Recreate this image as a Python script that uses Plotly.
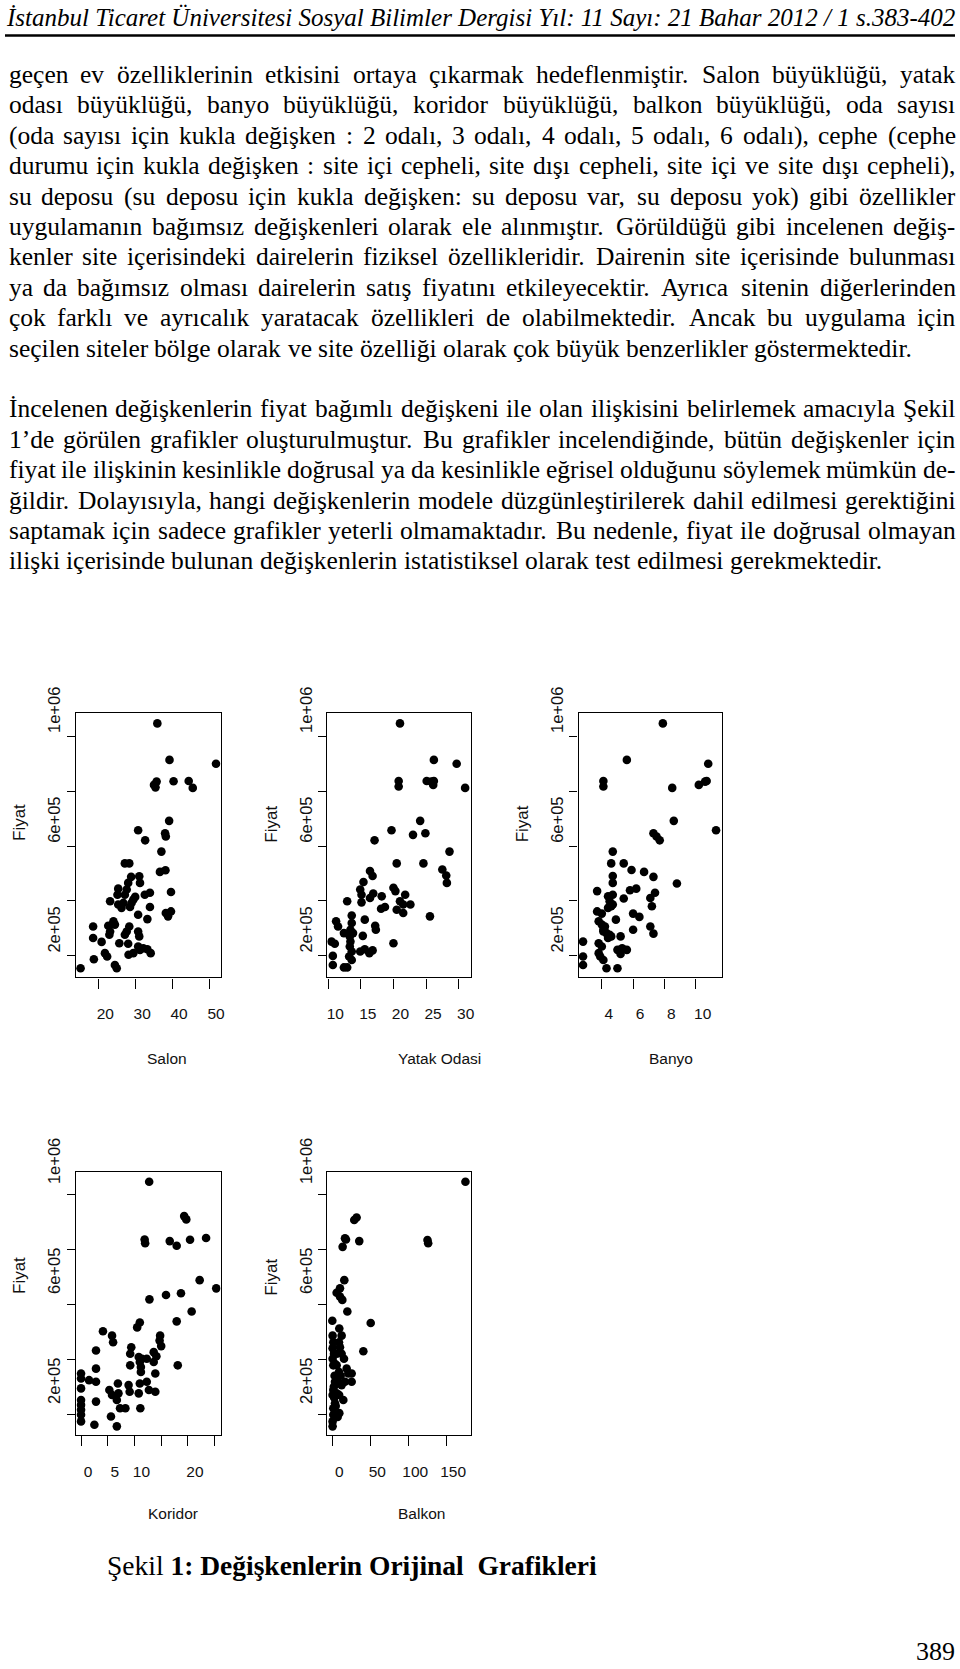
import plotly.graph_objects as go

W, H = 960, 1669

# ---------------- data (Fiyat in thousand TL) ----------------
salon_m2 = [36.0, 39.3, 51.9, 35.1, 35.8, 35.5, 40.4, 44.5, 45.6,
            39.2, 30.8, 32.7, 38.1, 38.3, 37.1, 27.2, 28.4, 36.7, 38.2, 28.9, 31.1, 31.3, 28.1,
            25.4, 25.2, 27.7, 27.2, 39.7, 32.6, 34.0, 23.2, 30.0, 29.5, 25.4, 26.3, 26.8, 28.6, 29.0,
            34.0, 30.8, 38.3, 38.9, 39.7, 33.3, 24.1, 24.5, 18.6, 22.7, 23.2, 23.0, 18.6, 28.4, 27.7,
            27.2, 30.8, 31.1, 20.9, 25.7, 28.1, 30.8, 31.3, 32.2, 33.3, 34.2, 28.2, 29.5, 21.8, 22.4,
            18.8, 24.5, 25.0, 15.2]
salon_fiyat_k = [1047, 914, 900, 823, 835, 814, 836, 837, 812,
                 692, 658, 621, 647, 635, 580, 537, 537, 506, 512, 488, 490, 466, 466,
                 445, 423, 442, 423, 433, 423, 430, 399, 415, 405, 387, 375, 393, 378, 393,
                 378, 350, 356, 344, 362, 334, 326, 314, 307, 310, 289, 277, 265, 307, 289,
                 277, 289, 271, 251, 246, 244, 234, 222, 228, 224, 210, 204, 210, 210, 198,
                 188, 167, 155, 155]

yatak_m2 = [21.0, 26.2, 29.7, 20.8, 20.8, 25.1, 25.8, 26.2, 26.1, 31.0,
            24.1, 19.7, 23.0, 24.9, 17.1, 28.6, 20.5, 24.6, 16.4, 16.8,
            27.5, 28.1, 28.2, 15.4, 14.9, 15.1, 20.0, 20.3, 16.9, 16.4,
            18.2, 21.8, 21.0, 22.6, 21.5, 20.5, 21.5, 12.9, 15.1, 18.7,
            18.1, 25.6, 13.6, 15.6, 11.2, 11.5, 17.2, 17.3, 13.6, 13.4,
            13.8, 13.3, 13.4, 13.3, 13.6, 13.2, 12.4, 15.3, 10.5, 11.0,
            20.0, 14.9, 15.6, 16.3, 16.8, 10.7, 10.7, 12.4, 12.9, 13.6]
yatak_fiyat_k = [1047, 914, 900, 837, 817, 837, 835, 837, 823, 812,
                 692, 658, 641, 647, 621, 580, 537, 537, 509, 491,
                 515, 493, 466, 469, 442, 423, 448, 436, 427, 411,
                 417, 423, 399, 387, 387, 368, 356, 399, 395, 378,
                 372, 344, 347, 332, 326, 307, 310, 295, 320, 295,
                 283, 271, 252, 234, 216, 198, 283, 273, 252, 244,
                 246, 216, 224, 210, 220, 200, 167, 158, 158, 185]

banyo_m2 = [7.9, 5.6, 10.8, 4.1, 4.1, 8.5, 10.2, 10.6, 10.7,
            8.6, 11.3, 7.3, 7.5, 7.7, 4.7, 4.6, 5.4, 5.9, 6.7,
            4.7, 4.7, 7.3, 8.8, 3.7, 5.8, 6.2, 4.7, 4.4, 4.5,
            4.6, 4.4, 4.7, 5.4, 7.4, 7.1, 7.2, 3.7, 4.0, 6.0,
            6.4, 4.9, 3.8, 4.0, 4.2, 4.1, 4.3, 4.5, 4.6, 4.4,
            4.1, 6.0, 7.1, 7.3, 5.2, 2.8, 3.8, 4.0, 5.0, 5.3,
            5.6, 5.2, 3.8, 3.9, 2.8, 2.8, 4.1, 4.3, 5.0]
banyo_fiyat_k = [1047, 914, 900, 837, 817, 812, 823, 835, 837,
                 692, 658, 647, 635, 621, 580, 537, 537, 513, 506,
                 491, 466, 488, 464, 436, 439, 445, 423, 417, 399,
                 381, 375, 387, 409, 430, 411, 381, 362, 354, 354,
                 342, 332, 326, 314, 307, 289, 283, 277, 271, 265,
                 295, 295, 307, 281, 271, 252, 246, 234, 222, 228,
                 222, 207, 210, 198, 198, 167, 185, 155, 155]

koridor_m2 = [12.75, 19.3, 19.7, 23.4, 20.4, 16.6, 17.9, 11.9, 12.0,
              22.2, 25.3, 12.8, 15.9, 18.7, 20.7, 17.9, 4.1, 10.5, 11.0,
              5.8, 6.0, 2.8, 14.8, 14.7, 15.0, 9.4, 9.2, 13.6, 14.1,
              10.8, 11.4, 12.3, 13.6, 11.0, 11.2, 11.2, 9.2, 2.8, 18.1,
              13.9, 0, 0, 1.5, 2.8, 0, 6.9, 8.9, 9.1, 5.3,
              5.8, 7.0, 11.0, 10.8, 12.3, 12.7, 13.9, 6.7, 2.8, 7.3,
              8.3, 0, 0, 0, 0, 0, 11.1, 5.6, 2.5, 6.7]
koridor_fiyat_k = [1046, 921, 909, 841, 835, 830, 813, 836, 822,
                   688, 658, 618, 634, 640, 574, 538, 502, 516, 534,
                   486, 462, 432, 486, 468, 448, 444, 420, 426, 411,
                   408, 402, 402, 390, 390, 372, 354, 378, 366, 378,
                   348, 348, 330, 324, 318, 294, 312, 306, 282, 288,
                   270, 276, 312, 276, 318, 288, 282, 252, 246, 222,
                   222, 252, 234, 216, 198, 174, 222, 192, 162, 156]

balkon_m2 = [175.4, 28.9, 32.0, 16.7, 13.6, 35.5, 125.4, 126.3, 18.0,
             15.8, 10.1, 5.7, 10.1, 13.2, 19.8, 0, 50.6, 9.2, 12.3,
             0.4, 1.3, 8.8, 10.1, 40.9, 0.4, 2.2, 12.3, 15.4, 0.4,
             3.5, 1.3, 5.7, 18.9, 25.5, 21.1, 25.5, 8.8, 3.5, 7.9,
             16.7, 12.3, 1.3, 0.4, 5.7, 14.5, 3.5, 1.3, 9.2, 1.3,
             0.4, 0.4, 3.0, 6.5, 2.0, 9.0, 4.5, 7.0, 2.5, 6.0, 11.0]
balkon_fiyat_k = [1046, 907, 916, 840, 809, 830, 834, 822, 836,
                  688, 658, 642, 628, 616, 574, 540, 532, 512, 486,
                  486, 462, 462, 444, 429, 440, 420, 420, 402, 402,
                  384, 378, 378, 366, 348, 348, 318, 354, 318, 312,
                  318, 306, 288, 270, 276, 252, 240, 222, 204, 198,
                  174, 156, 340, 330, 300, 270, 230, 190, 260, 420, 340]

# tick values / labels (R drops overlapping labels)
y_ticks = [200000, 400000, 600000, 800000, 1000000]
y_labels = ["2e+05", "", "6e+05", "", "1e+06"]
panels = [
    dict(x=salon_m2, y=salon_fiyat_k, title="Salon",
         ticks=[20, 30, 40, 50], labels=["20", "30", "40", "50"]),
    dict(x=yatak_m2, y=yatak_fiyat_k, title="Yatak Odasi",
         ticks=[10, 15, 20, 25, 30], labels=["10", "15", "20", "25", "30"]),
    dict(x=banyo_m2, y=banyo_fiyat_k, title="Banyo",
         ticks=[4, 6, 8, 10], labels=["4", "6", "8", "10"]),
    dict(x=koridor_m2, y=koridor_fiyat_k, title="Koridor",
         ticks=[0, 5, 10, 15, 20, 25], labels=["0", "5", "10", "", "20", ""]),
    dict(x=balkon_m2, y=balkon_fiyat_k, title="Balkon",
         ticks=[0, 50, 100, 150], labels=["0", "50", "100", "150"]),
]

# ---------------- layout geometry (pixels) ----------------
boxes = [  # left, right, top, bottom
    (75.7, 220.7, 712.7, 977.3),
    (327.3, 471.4, 712.7, 977.3),
    (578.5, 722.3, 712.7, 977.3),
    (75.7, 220.5, 1171.7, 1435.0),
    (327.3, 470.9, 1171.7, 1435.0),
]
xranges = [(13.88, 53.17), (9.85, 31.96), (2.51, 11.70), (-1.0, 26.1), (-6.6, 182.6)]
yranges = [(122000, 1086000)] * 3 + [(124500, 1082500)] * 2
ylabel_shift = [-24, -24, -24, -31, -31]
xtitle_pos = [(166.7, 1058), (439, 1058), (671.3, 1058), (172.7, 1513), (421.3, 1513)]
ytitle_pos = [(19, 823), (270.7, 824), (522.3, 824), (19, 1276), (270.7, 1277)]

SANS = "Liberation Sans, Arial, Helvetica, sans-serif"
SERIF = "Liberation Serif, Times New Roman, serif"

def px(x):
    return x / W

def py(y):
    return 1 - y / H

fig = go.Figure()
layout = dict(width=W, height=H, margin=dict(l=0, r=0, t=0, b=0, pad=0, autoexpand=False),
              autosize=False, paper_bgcolor="white", plot_bgcolor="white", showlegend=False)
annotations = []

for i, (p, b) in enumerate(zip(panels, boxes)):
    n = "" if i == 0 else str(i + 1)
    fig.add_trace(go.Scatter(
        x=p["x"], y=[v * 1000 for v in p["y"]], mode="markers",
        marker=dict(size=8.6, color="black", line=dict(width=0)),
        xaxis="x" + n, yaxis="y" + n, hoverinfo="skip"))
    layout["xaxis" + n] = dict(
        domain=[px(b[0]), px(b[1])], range=list(xranges[i]), anchor="y" + n,
        automargin=False, showgrid=False, zeroline=False, showline=True, mirror=True,
        linecolor="black", linewidth=1.4, ticks="outside", ticklen=10, tickwidth=1.2,
        tickcolor="black", tickvals=p["ticks"], ticktext=p["labels"],
        tickfont=dict(family=SANS, size=15.5, color="#111"),
        ticklabelshift=7, ticklabelstandoff=12)
    layout["yaxis" + n] = dict(
        domain=[py(b[3]), py(b[2])], range=list(yranges[i]), anchor="x" + n,
        automargin=False, showgrid=False, zeroline=False, showline=True, mirror=True,
        linecolor="black", linewidth=1.4, ticks="outside", ticklen=8, tickwidth=1.2,
        tickcolor="black", tickvals=y_ticks, ticktext=y_labels, tickangle=-90,
        tickfont=dict(family=SANS, size=16.5, color="#111"),
        ticklabelshift=ylabel_shift[i], ticklabelstandoff=0)
    tx, ty = xtitle_pos[i]
    annotations.append(dict(x=px(tx), y=py(ty), xref="paper", yref="paper", text=p["title"],
                            showarrow=False, xanchor="center", yanchor="middle",
                            font=dict(family=SANS, size=15.5, color="#111")))
    fx, fy = ytitle_pos[i]
    annotations.append(dict(x=px(fx), y=py(fy), xref="paper", yref="paper", text="Fiyat",
                            showarrow=False, xanchor="center", yanchor="middle", textangle=-90,
                            font=dict(family=SANS, size=17, color="#111")))

# ---------------- page text ----------------
TW = dict(a=444, b=500, c=444, d=500, e=444, f=333, g=500, h=500, i=278, j=278, k=500, l=278,
          m=778, n=500, o=500, p=500, q=500, r=333, s=389, t=278, u=500, v=500, w=722, x=500,
          y=500, z=444,
          A=722, B=667, C=667, D=722, E=611, F=556, G=722, H=722, I=333, J=389, K=722, L=611,
          M=889, N=722, O=722, P=556, Q=722, R=667, S=556, T=611, U=722, V=722, W=944, X=722,
          Y=722, Z=611)
TW.update({'ç': 444, 'ğ': 500, 'ı': 278, 'ö': 500, 'ş': 389, 'ü': 500, 'Ç': 667, 'Ğ': 722,
           'İ': 333, 'Ö': 722, 'Ş': 556, 'Ü': 722, ' ': 250, ',': 250, '.': 250, ':': 278,
           ';': 278, '(': 333, ')': 333, '-': 333, '’': 333, '/': 278})

def text_w(s, size):
    return sum(TW.get(ch, 500) for ch in s) * size / 1000.0

FS = 25.5
X0, X1 = 7.5, 954.5
paragraph1 = [
    "geçen ev özelliklerinin etkisini ortaya çıkarmak hedeflenmiştir. Salon büyüklüğü, yatak",
    "odası büyüklüğü, banyo büyüklüğü, koridor büyüklüğü, balkon büyüklüğü, oda sayısı",
    "(oda sayısı için kukla değişken : 2 odalı, 3 odalı, 4 odalı, 5 odalı, 6 odalı), cephe (cephe",
    "durumu için kukla değişken : site içi cepheli, site dışı cepheli, site içi ve site dışı cepheli),",
    "su deposu (su deposu için kukla değişken: su deposu var, su deposu yok) gibi özellikler",
    "uygulamanın bağımsız değişkenleri olarak ele alınmıştır. Görüldüğü gibi incelenen değiş-",
    "kenler site içerisindeki dairelerin fiziksel özellikleridir. Dairenin site içerisinde bulunması",
    "ya da bağımsız olması dairelerin satış fiyatını etkileyecektir. Ayrıca sitenin diğerlerinden",
    "çok farklı ve ayrıcalık yaratacak özellikleri de olabilmektedir. Ancak bu uygulama için",
    "seçilen siteler bölge olarak ve site özelliği olarak çok büyük benzerlikler göstermektedir.",
]
paragraph2 = [
    "İncelenen değişkenlerin fiyat bağımlı değişkeni ile olan ilişkisini belirlemek amacıyla Şekil",
    "1’de görülen grafikler oluşturulmuştur. Bu grafikler incelendiğinde, bütün değişkenler için",
    "fiyat ile ilişkinin kesinlikle doğrusal ya da kesinlikle eğrisel olduğunu söylemek mümkün de-",
    "ğildir. Dolayısıyla, hangi değişkenlerin modele düzgünleştirilerek dahil edilmesi gerektiğini",
    "saptamak için sadece grafikler yeterli olmamaktadır.  Bu nedenle, fiyat ile doğrusal olmayan",
    "ilişki içerisinde bulunan değişkenlerin istatistiksel olarak test edilmesi gerekmektedir.",
]

def place_line(line, yc, justify):
    words = line.split()
    ws = [text_w(w, FS) for w in words]
    gap = 250 * FS / 1000.0
    if justify and len(words) > 1:
        gap = (X1 - X0 - sum(ws)) / (len(words) - 1)
    x = X0
    for w, wd in zip(words, ws):
        annotations.append(dict(x=px(x), y=py(yc), xref="paper", yref="paper", text=w,
                                showarrow=False, xanchor="left", yanchor="middle", borderpad=0,
                                font=dict(family=SERIF, size=FS, color="black")))
        x += wd + gap

for k, line in enumerate(paragraph1):
    place_line(line, 74.5 + 30.4 * k, k < len(paragraph1) - 1)
for k, line in enumerate(paragraph2):
    place_line(line, 408.7 + 30.44 * k, k < len(paragraph2) - 1)

# header
annotations.append(dict(x=px(5), y=py(17), xref="paper", yref="paper",
                        text="<i>İstanbul Ticaret Üniversitesi Sosyal Bilimler Dergisi Yıl: 11 Sayı: 21 Bahar 2012 / 1 s.383-402</i>",
                        showarrow=False, xanchor="left", yanchor="middle", borderpad=0,
                        font=dict(family=SERIF, size=25, color="black")))
# caption
annotations.append(dict(x=px(106), y=py(1565), xref="paper", yref="paper",
                        text="Şekil <b>1: Değişkenlerin Orijinal&nbsp; Grafikleri</b>",
                        showarrow=False, xanchor="left", yanchor="middle", borderpad=0,
                        font=dict(family=SERIF, size=27.5, color="black")))
# page number
annotations.append(dict(x=px(956), y=py(1651), xref="paper", yref="paper", text="389",
                        showarrow=False, xanchor="right", yanchor="middle", borderpad=0,
                        font=dict(family=SERIF, size=26, color="black")))

layout["annotations"] = annotations
layout["shapes"] = [dict(type="line", xref="paper", yref="paper",
                         x0=px(5), x1=px(955), y0=py(35.5), y1=py(35.5),
                         line=dict(color="black", width=2.5))]
fig.update_layout(**layout)
fig.write_html("out.html")
